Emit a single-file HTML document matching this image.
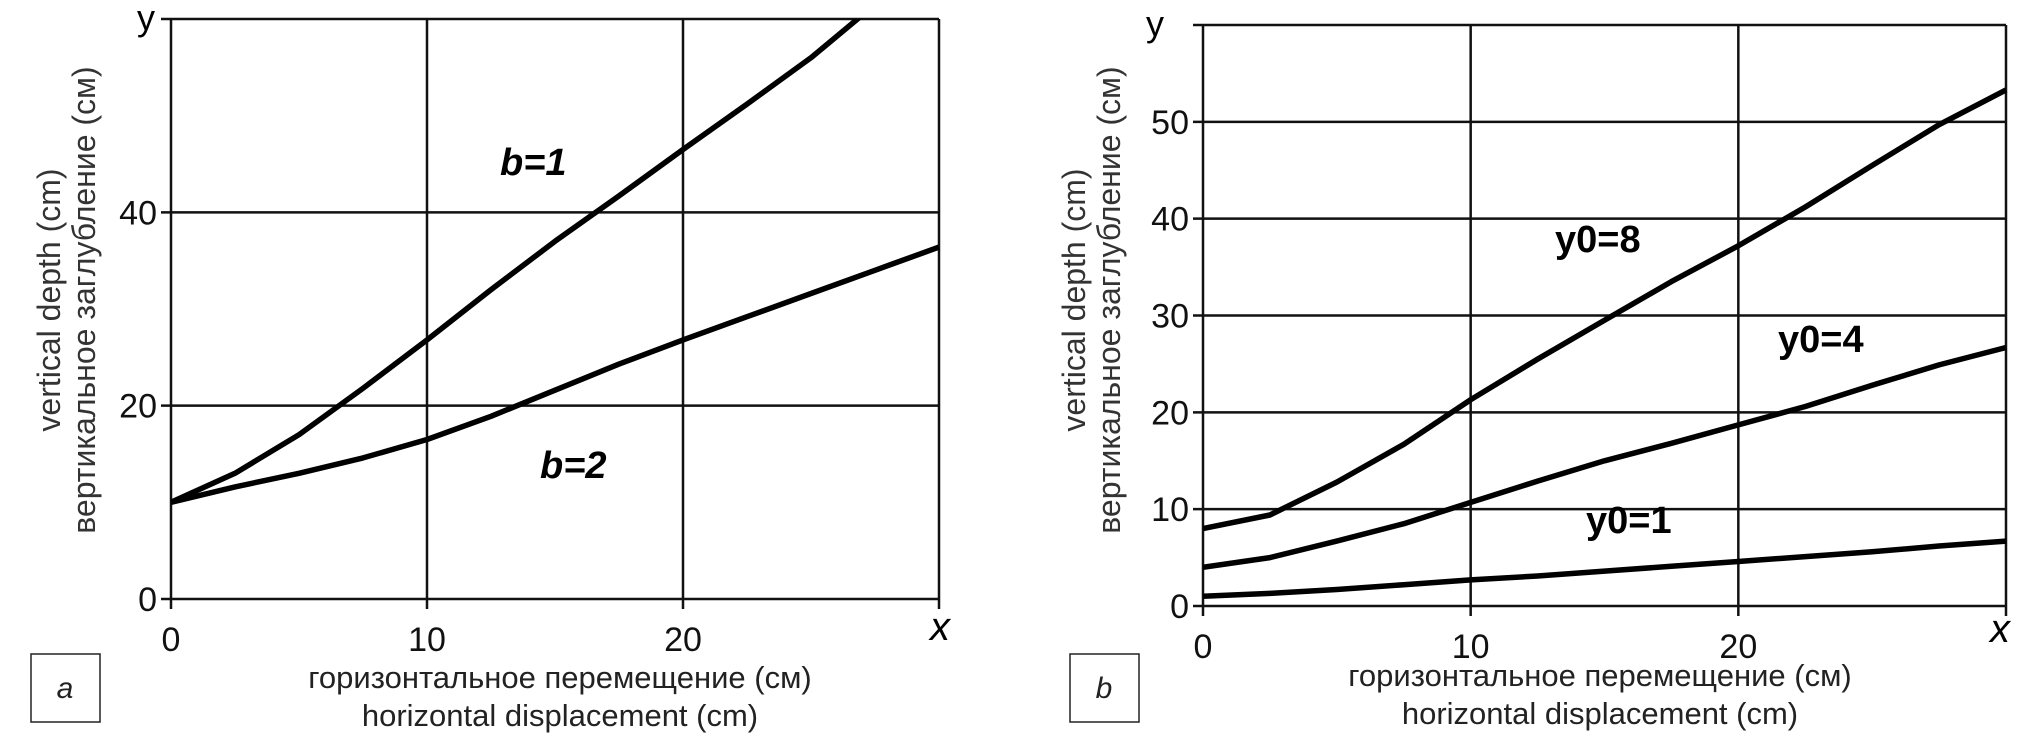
<!DOCTYPE html>
<html><head><meta charset="utf-8"><style>
body{margin:0;background:#fff;}
svg{display:block;font-family:"Liberation Sans","DejaVu Sans",sans-serif;}
</style></head><body>
<svg id="s" width="2020" height="744" viewBox="0 0 2020 744"></svg>
<script>
const xsA=[0,2.5,5,7.5,10,12.5,15,17.5,20,22.5,25,27.5];
const b1=[10,13,17,21.8,26.8,32,37,41.7,46.5,51.2,56,61.5];
const xsA2=[0,2.5,5,7.5,10,12.5,15,17.5,20,22.5,25,27.5,30];
const b2=[10,11.6,13,14.6,16.5,18.9,21.6,24.3,26.8,29.2,31.6,34,36.4];
const xsB=[0,2.5,5,7.5,10,12.5,15,17.5,20,22.5,25,27.5,30];
const y8=[8,9.4,12.8,16.7,21.3,25.5,29.5,33.5,37.2,41.2,45.5,49.7,53.3];
const y4=[4,5,6.7,8.5,10.7,12.9,15,16.8,18.7,20.6,22.8,24.9,26.7];
const y1=[1,1.3,1.7,2.2,2.7,3.1,3.6,4.1,4.6,5.1,5.6,6.2,6.7];
const xTicks=[0,10,20];
const yTicksA=[0,20,40];
const yTicksB=[0,10,20,30,40,50];
const NS="http://www.w3.org/2000/svg";
const svg=document.getElementById('s');
function mk(tag,attrs,parent,text){const e=document.createElementNS(NS,tag);for(const k in attrs)e.setAttribute(k,attrs[k]);if(text!==undefined)e.textContent=text;(parent||svg).appendChild(e);return e;}
function panel(P){
  const g=mk('g',{});
  
  
  const sx=v=>P.x0+(P.x1-P.x0)*v/30, sy=v=>P.y0-(P.y0-P.y1)*v/60;
  const cid='clip'+P.name;
  const cp=mk('clipPath',{id:cid},g);mk('rect',{x:P.x0,y:P.y1,width:P.x1-P.x0+3,height:P.y0-P.y1},cp);
  [0,10,20,30].forEach(v=>{const l=mk('line',{x1:sx(v),x2:sx(v),y1:P.y1,y2:P.y0+10,stroke:'#111','stroke-width':2.5},g);
    });
  P.yt.concat([60]).forEach(v=>{const l=mk('line',{x1:P.x0-10,x2:P.x1,y1:sy(v),y2:sy(v),stroke:'#111','stroke-width':2.5},g);
    });
  xTicks.forEach(v=>{const t=mk('text',{x:sx(v),y:P.y0+52,'font-size':34,'text-anchor':'middle',fill:'#111'},g,String(v));
    });
  P.yt.forEach(v=>{const t=mk('text',{x:P.x0-14,y:sy(v)+12,'font-size':34,'text-anchor':'end',fill:'#111'},g,String(v));
    });
  P.series.forEach(s=>{
    const d=s.xs.map((x,i)=>(i?'L':'M')+sx(x).toFixed(1)+','+sy(s.ys[i]).toFixed(1)).join(' ');
    const p=mk('path',{d:d,fill:'none',stroke:'#000','stroke-width':5.5,'stroke-linejoin':'round','clip-path':'url(#'+cid+')'},g);
    
  });
  return g;
}
panel({name:'panel-a',x0:171,x1:939,y0:599,y1:19,yt:yTicksA,series:[{name:'curve-b1',xs:xsA,ys:b1},{name:'curve-b2',xs:xsA2,ys:b2}]});
panel({name:'panel-b',x0:1203,x1:2006,y0:606,y1:25,yt:yTicksB,series:[{name:'curve-y0-8',xs:xsB,ys:y8},{name:'curve-y0-4',xs:xsB,ys:y4},{name:'curve-y0-1',xs:xsB,ys:y1}]});
function txt(name,attrs,s){const t=mk('text',attrs,svg,s);return t;}
txt('series-label-b1',{x:500,y:175,'font-size':38,'font-weight':'bold','font-style':'italic'},'b=1');
txt('series-label-b2',{x:540,y:478,'font-size':38,'font-weight':'bold','font-style':'italic'},'b=2');
txt('y-axis-symbol',{x:146,y:30,'font-size':36,'text-anchor':'middle'},'y');
txt('x-axis-symbol',{x:940,y:640,'font-size':40,'font-style':'italic','text-anchor':'middle'},'x');
txt('x-axis-title-ru',{x:560,y:688,'font-size':31,'text-anchor':'middle',fill:'#222'},'горизонтальное перемещение (см)');
txt('x-axis-title-en',{x:560,y:726,'font-size':31,'text-anchor':'middle',fill:'#222'},'horizontal displacement (cm)');
txt('y-axis-title-en',{x:0,y:0,'font-size':32,'text-anchor':'middle',fill:'#333',transform:'translate(60,300) rotate(-90)'},'vertical depth (cm)');
txt('y-axis-title-ru',{x:0,y:0,'font-size':32,'text-anchor':'middle',fill:'#333',transform:'translate(95,300) rotate(-90)'},'вертикальное заглубление (см)');
txt('series-label-y0-8',{x:1555,y:252,'font-size':38,'font-weight':'bold'},'y0=8');
txt('series-label-y0-4',{x:1778,y:352,'font-size':38,'font-weight':'bold'},'y0=4');
txt('series-label-y0-1',{x:1586,y:533,'font-size':38,'font-weight':'bold'},'y0=1');
txt('y-axis-symbol-b',{x:1155,y:36,'font-size':36,'text-anchor':'middle'},'y');
txt('x-axis-symbol-b',{x:2000,y:642,'font-size':40,'font-style':'italic','text-anchor':'middle'},'x');
txt('x-axis-title-ru-b',{x:1600,y:686,'font-size':31,'text-anchor':'middle',fill:'#222'},'горизонтальное перемещение (см)');
txt('x-axis-title-en-b',{x:1600,y:724,'font-size':31,'text-anchor':'middle',fill:'#222'},'horizontal displacement (cm)');
txt('y-axis-title-en-b',{x:0,y:0,'font-size':32,'text-anchor':'middle',fill:'#333',transform:'translate(1085,300) rotate(-90)'},'vertical depth (cm)');
txt('y-axis-title-ru-b',{x:0,y:0,'font-size':32,'text-anchor':'middle',fill:'#333',transform:'translate(1120,300) rotate(-90)'},'вертикальное заглубление (см)');
[['panel-label-a',31,'a'],['panel-label-b',1070,'b']].forEach(([n,x,s])=>{
  const r=mk('rect',{x:x,y:654,width:69,height:68,fill:'#fff',stroke:'#222','stroke-width':1.5});
  
  txt(n,{x:x+34,y:698,'font-size':30,'font-style':'italic','text-anchor':'middle',fill:'#222'},s);
});
</script>
</body></html>
